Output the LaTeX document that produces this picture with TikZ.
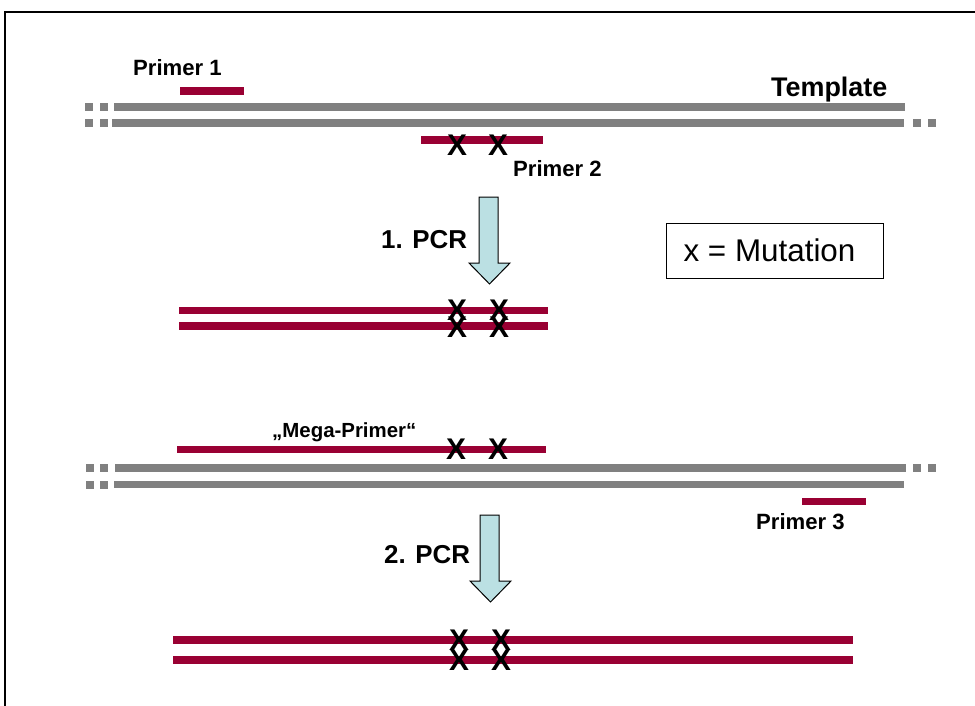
\documentclass[tikz,border=0pt]{standalone}
\usepackage{fontspec}
\setmainfont{Liberation Sans}
\definecolor{dred}{RGB}{153,0,51}
\definecolor{tgray}{RGB}{128,128,128}
\definecolor{afill}{RGB}{187,224,227}
\begin{document}
\begin{tikzpicture}[x=1bp,y=-1bp,
  strand/.style={line width=7.5bp, draw=tgray},
  rstrand/.style={line width=7.5bp, draw=dred},
  dotsq/.style={fill=tgray, draw=none},
  mut/.style={font=\fontsize{30}{30}\selectfont\bfseries, inner sep=0},
  lbl/.style={font=\fontsize{22.2}{22.2}\selectfont\bfseries, inner sep=0, anchor=base west},
  pcr/.style={font=\fontsize{26}{26}\selectfont\bfseries, inner sep=0, anchor=base west},
  blockarrow/.style={draw=black, line width=1bp, fill=afill}]
\useasboundingbox (0,0) rectangle (975,706);
\fill[white] (0,0) rectangle (975,706);
% frame
\draw[line width=2bp] (5,706) -- (5,12) -- (975,12);

% ---- Template 1
\draw[strand] (114,107) -- (905,107);
\draw[strand] (112,123) -- (904,123);
\foreach \y in {107,123} {
  \fill[dotsq] (85,\y-4) rectangle (93,\y+4);
  \fill[dotsq] (100,\y-4) rectangle (108,\y+4);
}
\fill[dotsq] (913,119) rectangle (921,127);
\fill[dotsq] (928,119) rectangle (936,127);
\node[pcr, font=\fontsize{27}{27}\selectfont\bfseries] (template) at (771,97) {Template};

% Primer 1
\draw[rstrand] (180,91) -- (244,91);
\node[lbl] (p1) at (133,76) {Primer 1};

% Primer 2
\draw[rstrand] (421,140) -- (543,140);
\node[mut] (x1) at (457,145) {X};
\node[mut] (x2) at (498,145) {X};
\node[lbl] (p2) at (513,177) {Primer 2};

% Arrow 1
\draw[blockarrow] (479,197) -- (498,197) -- (498,263) -- (510,263) -- (489.5,284)
  -- (469,263) -- (479,263) -- cycle;
\node[pcr] (pcr1) at (381,248) {1. PCR};

% legend
\node[draw=black, line width=1bp, minimum width=217bp, minimum height=55bp] (legend) at (774.5,250.5) {};
\node[inner sep=0, font=\fontsize{31.5}{31.5}\selectfont] (legendtext) at (769.5,250.5) {x = Mutation};

% Product 1
\draw[rstrand] (179,310.5) -- (548,310.5);
\draw[rstrand] (179,326) -- (548,326);
\foreach \xx/\n in {457/a,499/b} {
  \node[mut] (pa\n) at (\xx,310) {X};
  \node[mut] (pb\n) at (\xx,327) {X};
}

% Mega primer
\draw[rstrand] (177,449.5) -- (546,449.5);
\node[mut] (m1) at (456,449) {X};
\node[mut] (m2) at (498,449) {X};
\node[lbl, font=\fontsize{20.5}{20.5}\selectfont\bfseries] (mega) at (272,437) {„Mega-Primer“};

% ---- Template 2
\draw[strand] (115,468) -- (906,468);
\draw[strand] (114,484.5) -- (904,484.5);
\foreach \y in {468,484.5} {
  \fill[dotsq] (86,\y-4) rectangle (94,\y+4);
  \fill[dotsq] (100,\y-4) rectangle (108,\y+4);
}
\fill[dotsq] (913,464) rectangle (921,472);
\fill[dotsq] (928,464) rectangle (936,472);

% Primer 3
\draw[rstrand] (802,501.5) -- (866,501.5);
\node[lbl] (p3) at (756,529) {Primer 3};

% Arrow 2
\draw[blockarrow] (480,515) -- (499,515) -- (499,581) -- (511,581) -- (490.5,602)
  -- (470,581) -- (480,581) -- cycle;
\node[pcr] (pcr2) at (384,563) {2. PCR};

% Product 2
\draw[rstrand] (173,640) -- (853,640);
\draw[rstrand] (173,660) -- (853,660);
\foreach \xx/\n in {459/a,501/b} {
  \node[mut] (qa\n) at (\xx,640) {X};
  \node[mut] (qb\n) at (\xx,660) {X};
}
\end{tikzpicture}
\end{document}
